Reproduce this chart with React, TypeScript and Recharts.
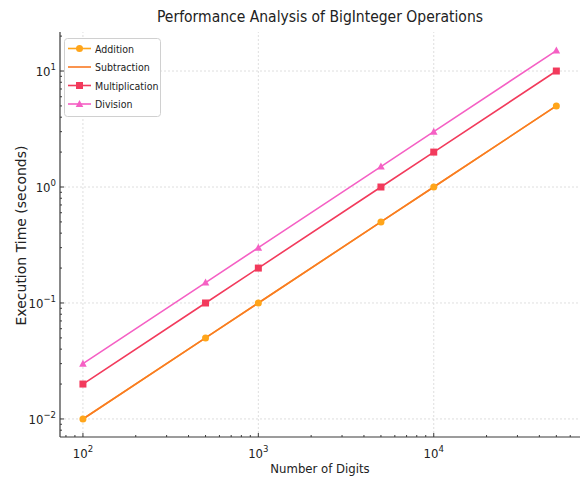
import React from "react";
import {
  LineChart,
  Line,
  XAxis,
  YAxis,
  ReferenceLine,
  Legend,
} from "recharts";

const digits = [100, 500, 1000, 5000, 10000, 50000];
const additionTimes = [0.01, 0.05, 0.1, 0.5, 1, 5];
const subtractionTimes = [0.01, 0.05, 0.1, 0.5, 1, 5];
const multiplicationTimes = [0.02, 0.1, 0.2, 1, 2, 10];
const divisionTimes = [0.03, 0.15, 0.3, 1.5, 3, 15];

const xMajorTicks = [100, 1000, 10000];
const xMinorTicks = [
  80, 90, 200, 300, 400, 500, 600, 700, 800, 900, 2000, 3000, 4000, 5000,
  6000, 7000, 8000, 9000, 20000, 30000, 40000, 50000, 60000,
];
const yMajorTicks = [0.01, 0.1, 1, 10];
const yMinorTicks = [
  0.008, 0.009, 0.02, 0.03, 0.04, 0.05, 0.06, 0.07, 0.08, 0.09, 0.2, 0.3, 0.4,
  0.5, 0.6, 0.7, 0.8, 0.9, 2, 3, 4, 5, 6, 7, 8, 9, 20,
];

const rows = digits.map((d, i) => ({
  digits: d,
  addition: additionTimes[i],
  subtraction: subtractionTimes[i],
  multiplication: multiplicationTimes[i],
  division: divisionTimes[i],
}));

const NARROW = '"Liberation Sans Narrow", "DejaVu Sans Condensed", "DejaVu Sans", sans-serif';
const AXIS = "#3a3a3a";

// drawn in this order, like the original plot
const series = [
  { key: "addition", name: "Addition", color: "#ffa51a", marker: "circle" },
  { key: "subtraction", name: "Subtraction", color: "#f97a24", marker: "none" },
  { key: "multiplication", name: "Multiplication", color: "#f23a5c", marker: "square" },
  { key: "division", name: "Division", color: "#f560c4", marker: "triangle" },
];

const isMajor = (v: number) => {
  const l = Math.log10(v);
  return Math.abs(l - Math.round(l)) < 1e-6;
};
const expLabel = (v: number) => {
  const e = Math.round(Math.log10(v));
  return e < 0 ? `\u2212${-e}` : `${e}`;
};

function Marker({ cx, cy, kind, color }: any) {
  if (kind === "circle") return <circle cx={cx} cy={cy} r={3.5} fill={color} />;
  if (kind === "square")
    return <rect x={cx - 3.5} y={cy - 3.5} width={7} height={7} fill={color} />;
  if (kind === "triangle")
    return (
      <polygon
        points={`${cx},${cy - 4} ${cx - 3.8},${cy + 3} ${cx + 3.8},${cy + 3}`}
        fill={color}
      />
    );
  return null;
}

function XTick({ x, y, payload }: any) {
  const v = payload.value;
  const major = isMajor(v);
  return (
    <g>
      <line x1={x} x2={x} y1={y} y2={y - (major ? 4 : 2)} stroke={AXIS} />
      {major && (
        <text x={x} y={y + 21} textAnchor="middle" fontSize={13} fill="#222" fontFamily={NARROW}>
          10
          <tspan dy={-6} fontSize={9.5}>
            {expLabel(v)}
          </tspan>
        </text>
      )}
    </g>
  );
}

function YTick({ x, y, payload }: any) {
  const v = payload.value;
  const major = isMajor(v);
  return (
    <g>
      <line x1={x} x2={x + (major ? 4 : 2)} y1={y} y2={y} stroke={AXIS} />
      {major && (
        <text x={x - 4} y={y + 5} textAnchor="end" fontSize={13} fill="#222" fontFamily={NARROW}>
          10
          <tspan dy={-6} fontSize={9.5}>
            {expLabel(v)}
          </tspan>
        </text>
      )}
    </g>
  );
}

function LegendBox() {
  return (
    <svg width={97} height={79}>
      <rect x={0.5} y={0.5} width={96} height={78} rx={3} fill="#fff" stroke="#d0d0d0" />
      {series.map((s, i) => {
        const cy = 10.5 + i * 18.5;
        return (
          <g key={s.key}>
            <line x1={4} x2={27} y1={cy} y2={cy} stroke={s.color} strokeWidth={1.6} />
            <Marker cx={15.5} cy={cy} kind={s.marker} color={s.color} />
            <text x={31} y={cy + 4} fontSize={10.5} fill="#222" fontFamily={NARROW}>
              {s.name}
            </text>
          </g>
        );
      })}
    </svg>
  );
}

export default function App() {
  return (
    <div style={{ position: "absolute", left: 0, top: 0, width: 581, height: 478, background: "#fff" }}>
      <div
        style={{
          position: "absolute",
          left: 60,
          width: 520,
          top: 8,
          textAlign: "center",
          fontFamily: NARROW,
          fontSize: 15.5,
          color: "#222",
        }}
      >
        Performance Analysis of BigInteger Operations
      </div>
      <LineChart width={581} height={478} data={rows} margin={{ top: 32, right: 1, bottom: 0, left: 0 }}>
        {xMajorTicks.map((t) => (
          <ReferenceLine key={`gx${t}`} x={t} stroke="#d6d6d6" strokeDasharray="2 2" strokeWidth={0.8} />
        ))}
        {yMajorTicks.map((t) => (
          <ReferenceLine key={`gy${t}`} y={t} stroke="#d6d6d6" strokeDasharray="2 2" strokeWidth={0.8} />
        ))}
        <XAxis
          dataKey="digits"
          type="number"
          scale="log"
          domain={[74, 68200]}
          allowDataOverflow
          ticks={[...xMajorTicks, ...xMinorTicks]}
          interval={0}
          tick={<XTick />}
          tickLine={false}
          tickSize={0}
          tickMargin={0}
          height={41}
          axisLine={{ stroke: AXIS, strokeWidth: 1.2 }}
          label={{
            value: "Number of Digits",
            position: "insideBottom",
            offset: 5,
            fontSize: 13,
            fill: "#222",
            fontFamily: NARROW,
          }}
        />
        <YAxis
          type="number"
          scale="log"
          domain={[0.00699, 21.7]}
          allowDataOverflow
          ticks={[...yMajorTicks, ...yMinorTicks]}
          interval={0}
          tick={<YTick />}
          tickLine={false}
          tickSize={0}
          tickMargin={0}
          width={60}
          axisLine={{ stroke: AXIS, strokeWidth: 1.2 }}
          label={{
            content: ({ viewBox }: any) => {
              const cy = viewBox.y + viewBox.height / 2 + 1;
              return (
                <text
                  x={26}
                  y={cy}
                  transform={`rotate(-90, 26, ${cy})`}
                  textAnchor="middle"
                  fontSize={14}
                  fill="#222"
                  fontFamily='"DejaVu Sans", sans-serif'
                >
                  Execution Time (seconds)
                </text>
              );
            },
          }}
        />
        <Legend
          layout="vertical"
          align="center"
          verticalAlign="middle"
          content={() => <LegendBox />}
          wrapperStyle={{ left: 64, top: 38, width: 97, height: 79 }}
        />
        {series.map((s) => (
          <Line
            key={s.key}
            dataKey={s.key}
            name={s.name}
            stroke={s.color}
            strokeWidth={1.6}
            isAnimationActive={false}
            dot={(p: any) => <Marker key={`${s.key}-${p.index}`} cx={p.cx} cy={p.cy} kind={s.marker} color={s.color} />}
            activeDot={false}
          />
        ))}
      </LineChart>
    </div>
  );
}
